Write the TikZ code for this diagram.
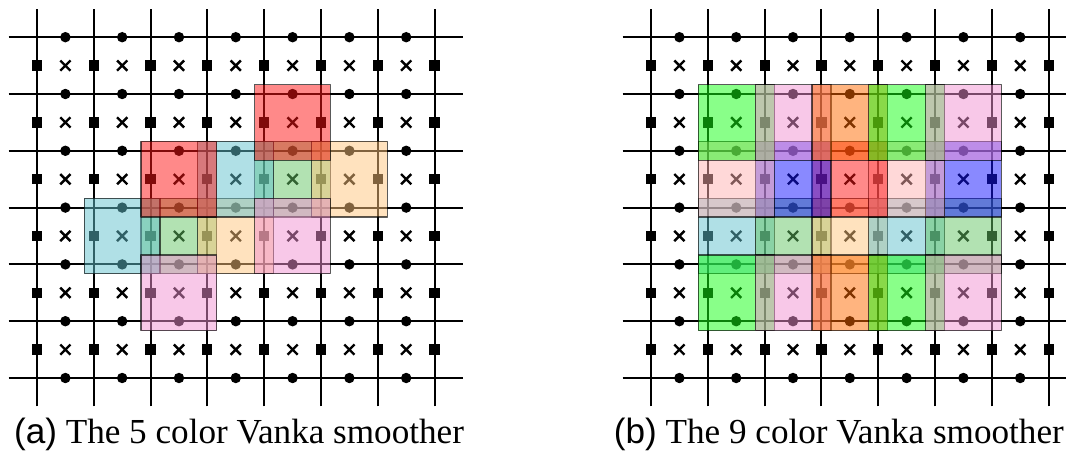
\documentclass[tikz,border=0pt]{standalone}
\usepackage{fontspec}
\setmainfont{Liberation Serif}
\setsansfont{Liberation Sans}
\definecolor{vred}{RGB}{255,20,20}
\definecolor{vblue}{RGB}{20,20,255}
\definecolor{vgreen}{RGB}{20,255,20}
\definecolor{vorange}{RGB}{255,105,0}
\definecolor{vrose}{RGB}{255,177,177}
\definecolor{vcyan}{RGB}{97,193,205}
\definecolor{vlgreen}{RGB}{101,197,101}
\definecolor{vpeach}{RGB}{255,197,125}
\definecolor{vpink}{RGB}{241,145,209}
\begin{document}
\begin{tikzpicture}[line join=round,line width=1pt]
\tikzset{vanka/.style={draw=black,draw opacity=0.65,fill opacity=0.5,line width=0.6pt},
  capt/.style={anchor=base west,inner sep=0pt,font=\fontsize{17.6}{21}\selectfont}}
\useasboundingbox (-0.651,-1.338) rectangle (18.116,6.655);
% staggered grid: dots, squares and crosses
\foreach \ox in {0,10.81}{
  \begin{scope}[shift={(\ox,0)}]
    \foreach \i in {0,...,7} \draw (\i,-0.5)--(\i,6.5);
    \foreach \j in {0,...,6} \draw (-0.5,\j)--(7.5,\j);
    \foreach \i in {0,...,6} \foreach \j in {0,...,6}
      \fill (\i+0.5,\j) circle (0.092);
    \foreach \i in {0,...,7} \foreach \j in {0,...,5}
      \fill (\i-0.09,\j+0.41) rectangle ++(0.18,0.18);
    \foreach \i in {0,...,6} \foreach \j in {0,...,5}
      \draw[line width=1.2pt] (\i+0.41,\j+0.41)--(\i+0.59,\j+0.59) (\i+0.41,\j+0.59)--(\i+0.59,\j+0.41);
  \end{scope}
}
% 5 color boxes, column/row from top left
\foreach \c/\r/\col in {2/3/vlgreen,4/2/vlgreen,3/3/vpeach,5/2/vpeach,1/3/vcyan,3/2/vcyan,
    4/3/vpink,2/4/vpink,2/2/vred,4/1/vred}
  \filldraw[vanka,fill=\col] (\c-0.167,5-\r-0.167) rectangle (\c+1.167,6-\r+0.167);
% 9 color boxes
\begin{scope}[shift={(10.81,0)}]
  \foreach \c/\r/\col in {1/3/vcyan,2/3/vlgreen,3/3/vpeach,4/3/vcyan,5/3/vlgreen,
      5/2/vblue,4/2/vrose,3/2/vred,2/2/vblue,1/2/vrose,
      1/1/vgreen,2/1/vpink,3/1/vorange,4/1/vgreen,5/1/vpink,
      1/4/vgreen,2/4/vpink,3/4/vorange,4/4/vgreen,5/4/vpink}
    \filldraw[vanka,fill=\col] (\c-0.167,5-\r-0.167) rectangle (\c+1.167,6-\r+0.167);
\end{scope}
\node[capt] (capa) at (-0.42,-1.15) {\textsf{(a)} The 5 color Vanka smoother};
\node[capt] (capb) at (10.14,-1.15) {\textsf{(b)} The 9 color Vanka smoother};
\end{tikzpicture}
\end{document}
